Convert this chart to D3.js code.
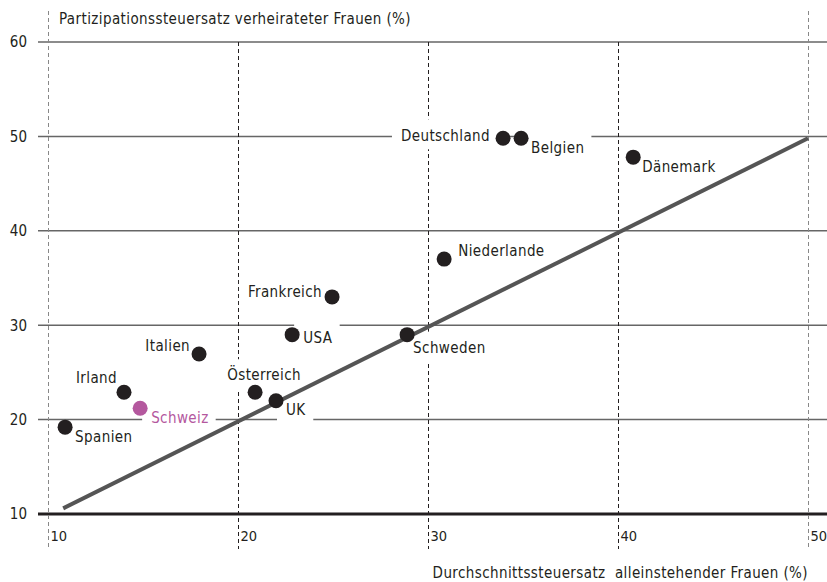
<!DOCTYPE html>
<html>
<head>
<meta charset="utf-8">
<script src="https://cdn.jsdelivr.net/npm/d3@7"></script>
<style>
  html, body { margin: 0; padding: 0; background: #fff; }
  svg { display: block; }
  text { font-family: "DejaVu Sans Condensed", "DejaVu Sans", sans-serif; }
</style>
</head>
<body>
<svg id="chart" width="827" height="582"></svg>
<script>
// ---- data ----
const countries = ["Spanien", "Irland", "Schweiz", "Italien", "Österreich", "UK", "USA",
                   "Frankreich", "Schweden", "Niederlande", "Deutschland", "Belgien", "Dänemark"];
const singleRate = [10.9, 14.0, 14.85, 17.95, 20.9, 22.0, 22.85, 24.95, 28.9, 30.85, 33.95, 34.9, 40.8];
const marriedRate = [19.2, 22.9, 21.2, 26.95, 22.9, 22.0, 29.0, 33.0, 29.0, 37.0, 49.8, 49.8, 47.8];
const highlighted = ["Schweiz"];
const xTicks = [10, 20, 30, 40, 50];
const yTicks = [10, 20, 30, 40, 50, 60];
const diagonalX = [10.8, 50];
const diagonalY = [10.6, 49.8];
const yTitle = "Partizipationssteuersatz verheirateter Frauen (%)";
const xTitle = "Durchschnittssteuersatz\u00a0 alleinstehender Frauen (%)";

// ---- label placement (layout) ----
const labelPlace = {
  "Spanien":     { anchor: "start",  dx: 10,  dy: 10 },
  "Irland":      { anchor: "end",    dx: -7,  dy: -14 },
  "Schweiz":     { anchor: "start",  dx: 11,  dy: 9 },
  "Italien":     { anchor: "end",    dx: -9,  dy: -8 },
  "Österreich":  { anchor: "middle", dx: 9,   dy: -17 },
  "UK":          { anchor: "start",  dx: 10,  dy: 9 },
  "USA":         { anchor: "start",  dx: 11,  dy: 3 },
  "Frankreich":  { anchor: "end",    dx: -10, dy: -5 },
  "Schweden":    { anchor: "start",  dx: 6,   dy: 13 },
  "Niederlande": { anchor: "start",  dx: 14,  dy: -8 },
  "Deutschland": { anchor: "end",    dx: -13, dy: -3 },
  "Belgien":     { anchor: "start",  dx: 10,  dy: 9 },
  "Dänemark":    { anchor: "start",  dx: 9,   dy: 10 }
};

const data = countries.map((c, i) => ({ name: c, x: singleRate[i], y: marriedRate[i] }));

const svg = d3.select("#chart");
const x = d3.scaleLinear().domain([10, 50]).range([48, 808]);
const y = d3.scaleLinear().domain([10, 60]).range([514, 42]);

const ink = "#231f20";
const pink = "#b4589e";
const fs = 15;
const ls = "0.4px";

// horizontal grid lines
const gH = svg.append("g");
gH.selectAll("line").data(yTicks).join("line")
  .attr("x1", 38).attr("x2", 827)
  .attr("y1", d => y(d)).attr("y2", d => y(d))
  .attr("stroke", d => d === 10 ? ink : "#666")
  .attr("stroke-width", d => d === 10 ? 3 : 1.5);

// vertical dashed grid lines
const gV = svg.append("g");
gV.selectAll("line").data(xTicks).join("line")
  .attr("x1", d => Math.round(x(d)) + 0.5).attr("x2", d => Math.round(x(d)) + 0.5)
  .attr("y1", d => (d === 10 || d === 50) ? 11 : y(60))
  .attr("y2", 549)
  .attr("stroke", d => (d === 10 || d === 50) ? "#888" : ink)
  .attr("stroke-width", 1)
  .attr("stroke-dasharray", "4,3");

// axis tick labels via d3 axes
const yAxis = svg.append("g").attr("transform", "translate(27,0)")
  .call(d3.axisLeft(y).tickValues(yTicks).tickSize(0).tickPadding(0));
yAxis.select(".domain").remove();
yAxis.selectAll("text").attr("font-size", fs).attr("fill", ink)
  .attr("font-family", "DejaVu Sans Condensed, DejaVu Sans, sans-serif");

const xAxis = svg.append("g").attr("transform", "translate(0,531)")
  .call(d3.axisBottom(x).tickValues(xTicks).tickSize(0).tickPadding(0));
xAxis.select(".domain").remove();
xAxis.selectAll("text").attr("font-size", 14.5).attr("fill", ink)
  .attr("text-anchor", "start").attr("dx", 2)
  .attr("font-family", "DejaVu Sans Condensed, DejaVu Sans, sans-serif");

// axis titles
svg.append("text").attr("x", 59).attr("y", 19).attr("dy", "0.35em")
  .attr("font-size", fs).attr("fill", ink).attr("letter-spacing", ls).text(yTitle);
svg.append("text").attr("x", 808).attr("y", 573).attr("dy", "0.35em")
  .attr("text-anchor", "end")
  .attr("font-size", fs).attr("fill", ink).attr("letter-spacing", ls).text(xTitle);

// layers
const gBox = svg.append("g");
const gLine = svg.append("g");
const gDots = svg.append("g");
const gText = svg.append("g");

const labels = gText.selectAll("text").data(data).join("text")
  .attr("x", d => x(d.x) + labelPlace[d.name].dx)
  .attr("y", d => y(d.y) + labelPlace[d.name].dy)
  .attr("dy", "0.35em")
  .attr("text-anchor", d => labelPlace[d.name].anchor)
  .attr("font-size", fs)
  .attr("letter-spacing", ls)
  .attr("fill", d => highlighted.includes(d.name) ? pink : ink)
  .text(d => d.name);

// white knock-out boxes behind labels
labels.each(function (d) {
  const b = this.getBBox();
  const cy = y(d.y) + labelPlace[d.name].dy;
  gBox.append("rect")
    .attr("x", b.x - 9).attr("width", b.width + 16)
    .attr("y", cy - 16).attr("height", 30)
    .attr("fill", "#fff");
});

// diagonal reference line
gLine.append("line")
  .attr("x1", x(diagonalX[0])).attr("y1", y(diagonalY[0]))
  .attr("x2", x(diagonalX[1])).attr("y2", y(diagonalY[1]))
  .attr("stroke", "#555").attr("stroke-width", 4);

// dots
gDots.selectAll("circle").data(data).join("circle")
  .attr("cx", d => x(d.x)).attr("cy", d => y(d.y)).attr("r", 7.5)
  .attr("fill", d => highlighted.includes(d.name) ? pink : ink);
</script>
</body>
</html>
